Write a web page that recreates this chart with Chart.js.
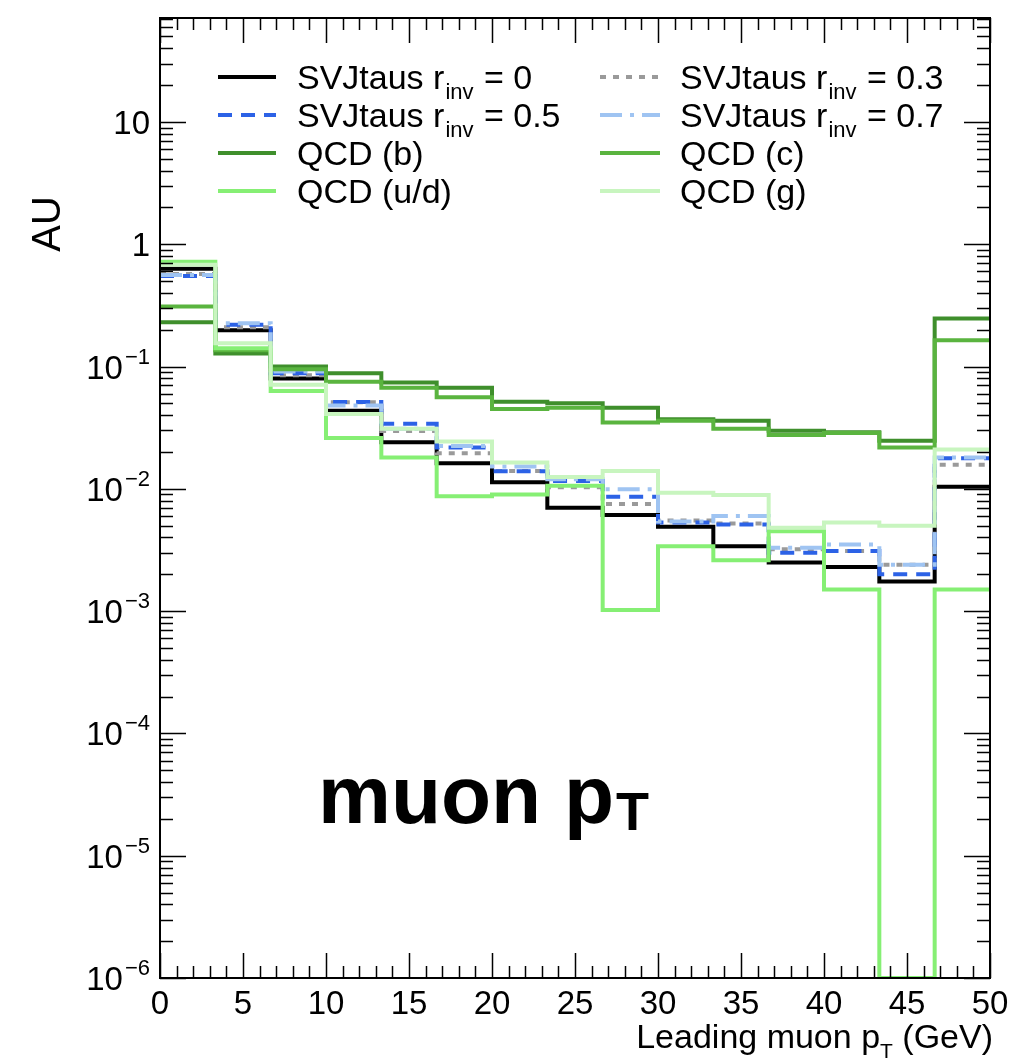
<!DOCTYPE html>
<html>
<head>
<meta charset="utf-8">
<title>Leading muon pT</title>
<script src="https://cdn.jsdelivr.net/npm/chart.js@4/dist/chart.umd.min.js"></script>
<style>
  html, body { margin: 0; padding: 0; background: #ffffff; }
  #wrap { position: relative; width: 1009px; height: 1062px; }
</style>
</head>
<body>
<div id="wrap"><canvas id="chart"></canvas></div>
<script>
// Bin edges of the leading-muon pT histogram (GeV), 15 bins
const binEdges = [0, 3.333, 6.667, 10, 13.333, 16.667, 20, 23.333, 26.667, 30, 33.333, 36.667, 40, 43.333, 46.667, 50];

// Normalised bin contents (AU)
const svjR00 = [0.63, 0.198, 0.080, 0.0434, 0.024, 0.0162, 0.0113, 0.0070, 0.0061, 0.0049, 0.0034, 0.0025, 0.0023, 0.00175, 0.0104];
const svjR03 = [0.57, 0.210, 0.085, 0.051, 0.0297, 0.0195, 0.0140, 0.0103, 0.0075, 0.0055, 0.0052, 0.0032, 0.0031, 0.0024, 0.0157];
const svjR05 = [0.55, 0.220, 0.088, 0.0514, 0.034, 0.0218, 0.0139, 0.0116, 0.0086, 0.0053, 0.0051, 0.0030, 0.0031, 0.0020, 0.0178];
const svjR07 = [0.56, 0.226, 0.091, 0.048, 0.031, 0.0224, 0.0152, 0.0120, 0.0099, 0.0054, 0.0060, 0.0033, 0.0035, 0.0024, 0.0180];
const qcdB   = [0.23, 0.128, 0.100, 0.088, 0.074, 0.067, 0.0516, 0.050, 0.046, 0.037, 0.036, 0.0298, 0.029, 0.0247, 0.247];
const qcdC   = [0.31, 0.136, 0.095, 0.075, 0.067, 0.056, 0.045, 0.046, 0.0348, 0.036, 0.031, 0.0275, 0.0286, 0.0218, 0.164];
const qcdUD  = [0.72, 0.141, 0.063, 0.026, 0.018, 0.0087, 0.0090, 0.0106, 0.00102, 0.0034, 0.0026, 0.0045, 0.0015, 0, 0.0015];
const qcdG   = [0.68, 0.155, 0.071, 0.041, 0.031, 0.0244, 0.0164, 0.0125, 0.0140, 0.0093, 0.0089, 0.0048, 0.0053, 0.0050, 0.021];

// Axis ranges and tick labels
const X_MIN = 0, X_MAX = 50;
const Y_MIN = 1e-6, Y_MAX = 70.8;
const xTickValues = [0, 5, 10, 15, 20, 25, 30, 35, 40, 45, 50];
const xTickLabels = ['0', '5', '10', '15', '20', '25', '30', '35', '40', '45', '50'];
const yTickValues = [1e-6, 1e-5, 1e-4, 1e-3, 1e-2, 1e-1, 1, 10];
const yTickBases  = ['10', '10', '10', '10', '10', '10', '1', '10'];
const yTickExps   = ['\u22126', '\u22125', '\u22124', '\u22123', '\u22122', '\u22121', '', ''];

// Series: legend text pieces, data and line style
const series = [
  { main: 'SVJtaus r', sub: 'inv', tail: ' = 0',   values: svjR00, color: '#000000', dash: [] },
  { main: 'SVJtaus r', sub: 'inv', tail: ' = 0.3', values: svjR03, color: '#9a9a9a', dash: [6, 7] },
  { main: 'SVJtaus r', sub: 'inv', tail: ' = 0.5', values: svjR05, color: '#2c62e6', dash: [14, 9] },
  { main: 'SVJtaus r', sub: 'inv', tail: ' = 0.7', values: svjR07, color: '#9fc4f2', dash: [22, 8, 4, 8] },
  { main: 'QCD (b)',   sub: '', tail: '', values: qcdB,  color: '#3f8f2c', dash: [] },
  { main: 'QCD (c)',   sub: '', tail: '', values: qcdC,  color: '#5ab43f', dash: [] },
  { main: 'QCD (u/d)', sub: '', tail: '', values: qcdUD, color: '#86ef74', dash: [] },
  { main: 'QCD (g)',   sub: '', tail: '', values: qcdG,  color: '#c8f5bf', dash: [] }
];

const FONT = '"Liberation Sans", Arial, Helvetica, sans-serif';

// Empty bins sit on the frame floor, as in a log-scale histogram
function floorValue(v) { return v > 0 ? v : Y_MIN; }

// Step outline: one point per bin edge, last bin repeated at the right edge
function toSteps(values) {
  return binEdges.map((x, i) => ({ x: x, y: floorValue(values[Math.min(i, values.length - 1)]) }));
}

const datasets = series.map((s, i) => ({
  label: s.main + s.sub + s.tail,
  data: toSteps(s.values),
  borderColor: s.color,
  borderDash: s.dash,
  borderWidth: 4,
  borderCapStyle: 'butt',
  borderJoinStyle: 'miter',
  stepped: 'before',
  pointRadius: 0,
  fill: false,
  order: series.length - i
}));

function drawFrame(chart) {
  const ctx = chart.ctx;
  const a = chart.chartArea;
  const xs = chart.scales.x, ys = chart.scales.y;
  ctx.save();
  ctx.strokeStyle = '#000';
  ctx.lineWidth = 2;
  ctx.strokeRect(a.left, a.top, a.right - a.left, a.bottom - a.top);

  ctx.lineWidth = 1.5;
  ctx.beginPath();
  // x ticks (bottom and top), major every 5, minor every 1
  for (let v = X_MIN; v <= X_MAX; v += 1) {
    const px = Math.round(xs.getPixelForValue(v)) + 0.5;
    const len = (v % 5 === 0) ? 25 : 12;
    ctx.moveTo(px, a.bottom); ctx.lineTo(px, a.bottom - len);
    ctx.moveTo(px, a.top); ctx.lineTo(px, a.top + len);
  }
  // y ticks (left and right), major per decade, minor at 2..9
  for (let d = -6; d <= 1; d++) {
    for (let k = 1; k <= 9; k++) {
      const v = k * Math.pow(10, d);
      if (v < Y_MIN * 0.999 || v > Y_MAX) continue;
      const py = Math.round(ys.getPixelForValue(v)) + 0.5;
      const len = (k === 1) ? 26 : 13;
      ctx.moveTo(a.left, py); ctx.lineTo(a.left + len, py);
      ctx.moveTo(a.right, py); ctx.lineTo(a.right - len, py);
    }
  }
  ctx.stroke();

  // x tick labels
  ctx.fillStyle = '#000';
  ctx.font = '33px ' + FONT;
  ctx.textAlign = 'center';
  ctx.textBaseline = 'alphabetic';
  xTickValues.forEach((v, i) => {
    ctx.fillText(xTickLabels[i], xs.getPixelForValue(v), a.bottom + 36);
  });

  // y tick labels: base with optional superscript exponent
  const rightEdge = a.left - 10;
  yTickValues.forEach((v, i) => {
    const py = ys.getPixelForValue(v);
    const base = yTickBases[i], ex = yTickExps[i];
    ctx.font = '33px ' + FONT;
    const wb = ctx.measureText(base).width;
    ctx.font = '22px ' + FONT;
    const we = ex ? ctx.measureText(ex).width + 2 : 0;
    const x0 = rightEdge - wb - we;
    ctx.textAlign = 'left';
    ctx.font = '33px ' + FONT;
    ctx.fillText(base, x0, py + 12);
    if (ex) {
      ctx.font = '22px ' + FONT;
      ctx.fillText(ex, x0 + wb + 2, py - 3);
    }
  });

  // y axis title
  ctx.save();
  ctx.translate(60, 224);
  ctx.rotate(-Math.PI / 2);
  ctx.font = '40px ' + FONT;
  ctx.textAlign = 'center';
  ctx.fillText('AU', 0, 0);
  ctx.restore();

  // x axis title, right-aligned to the frame
  const t1 = 'Leading muon p', t2 = 'T', t3 = ' (GeV)';
  ctx.textAlign = 'left';
  ctx.font = '34px ' + FONT;
  const w1 = ctx.measureText(t1).width, w3 = ctx.measureText(t3).width;
  ctx.font = '21px ' + FONT;
  const w2 = ctx.measureText(t2).width;
  let xt = a.right + 3 - (w1 + w2 + w3);
  ctx.font = '34px ' + FONT;
  ctx.fillText(t1, xt, 1048);
  ctx.font = '21px ' + FONT;
  ctx.fillText(t2, xt + w1, 1058);
  ctx.font = '34px ' + FONT;
  ctx.fillText(t3, xt + w1 + w2, 1048);

  // panel label
  ctx.font = 'bold 82px ' + FONT;
  const wm = ctx.measureText('muon p').width;
  ctx.fillText('muon p', 318, 823);
  ctx.font = 'bold 54px ' + FONT;
  ctx.fillText('T', 318 + wm + 2, 830);

  ctx.restore();
}

function drawLegend(chart) {
  const ctx = chart.ctx;
  const rows = [77, 115, 153, 191];
  const cols = [{ x0: 218, x1: 276, tx: 297 }, { x0: 600, x1: 660, tx: 680 }];
  ctx.save();
  series.forEach((s, i) => {
    const col = cols[i % 2];
    const y = rows[Math.floor(i / 2)];
    ctx.strokeStyle = s.color;
    ctx.lineWidth = 4;
    ctx.lineCap = 'butt';
    ctx.setLineDash(s.dash);
    ctx.beginPath();
    ctx.moveTo(col.x0, y);
    ctx.lineTo(col.x1, y);
    ctx.stroke();
    ctx.setLineDash([]);
    ctx.fillStyle = '#000';
    ctx.textAlign = 'left';
    ctx.textBaseline = 'alphabetic';
    ctx.font = '34px ' + FONT;
    const wm = ctx.measureText(s.main).width;
    ctx.fillText(s.main, col.tx, y + 12);
    if (s.sub) {
      ctx.font = '22px ' + FONT;
      const ws = ctx.measureText(s.sub).width;
      ctx.fillText(s.sub, col.tx + wm + 1, y + 22);
      ctx.font = '34px ' + FONT;
      ctx.fillText(s.tail, col.tx + wm + ws + 2, y + 12);
    }
  });
  ctx.restore();
}

const frameAndText = {
  id: 'frameAndText',
  afterDraw(chart) {
    drawFrame(chart);
    drawLegend(chart);
  }
};

new Chart(document.getElementById('chart'), {
  type: 'line',
  data: { datasets: datasets },
  options: {
    responsive: true,
    maintainAspectRatio: false,
    animation: false,
    layout: { padding: { left: 160, right: 19, top: 18, bottom: 84 } },
    plugins: { legend: { display: false }, tooltip: { enabled: false } },
    scales: {
      x: { type: 'linear', min: X_MIN, max: X_MAX, display: false },
      y: { type: 'logarithmic', min: Y_MIN, max: Y_MAX, display: false }
    }
  },
  plugins: [frameAndText]
});
</script>
</body>
</html>
